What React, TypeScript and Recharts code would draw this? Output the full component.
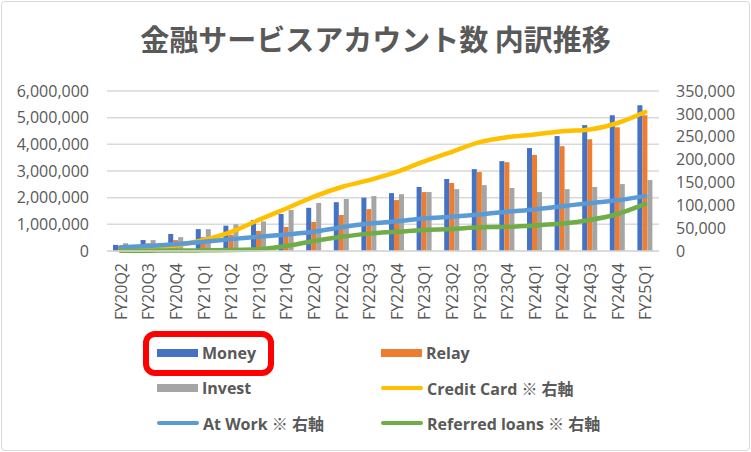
import { Bar, CartesianGrid, ComposedChart, Line, XAxis, YAxis } from "recharts";

const quarters = [
  "FY20Q2", "FY20Q3", "FY20Q4", "FY21Q1", "FY21Q2", "FY21Q3", "FY21Q4",
  "FY22Q1", "FY22Q2", "FY22Q3", "FY22Q4", "FY23Q1", "FY23Q2", "FY23Q3",
  "FY23Q4", "FY24Q1", "FY24Q2", "FY24Q3", "FY24Q4", "FY25Q1",
];

// left axis
const money = [230000, 410000, 640000, 820000, 950000, 1160000, 1390000, 1620000, 1830000, 2000000, 2170000, 2400000, 2700000, 3070000, 3370000, 3860000, 4310000, 4720000, 5090000, 5470000];
const relay = [200000, 290000, 410000, 520000, 610000, 750000, 900000, 1090000, 1350000, 1570000, 1910000, 2210000, 2550000, 2960000, 3330000, 3600000, 3930000, 4190000, 4640000, 5090000];
const invest = [290000, 410000, 520000, 820000, 1000000, 1110000, 1540000, 1800000, 1950000, 2060000, 2130000, 2210000, 2320000, 2470000, 2360000, 2210000, 2320000, 2400000, 2510000, 2660000];

// right axis
const creditCard = [2000, 5000, 12000, 24000, 42000, 68000, 93000, 119000, 140000, 155000, 173000, 196000, 217000, 238000, 249000, 255000, 262000, 266000, 280000, 304000];
const atWork = [8000, 11000, 15000, 20000, 26000, 31000, 36000, 42000, 52000, 60000, 65000, 71000, 75000, 80000, 86000, 91000, 98000, 105000, 111000, 120000];
const referredLoans = [500, 800, 1000, 1500, 2000, 4000, 11000, 22000, 31000, 38000, 42000, 46000, 48000, 52000, 53000, 56000, 60000, 68000, 81000, 103000];

const leftTicks = [0, 1000000, 2000000, 3000000, 4000000, 5000000, 6000000];
const rightTicks = [0, 50000, 100000, 150000, 200000, 250000, 300000, 350000];

const data = quarters.map((q, i) => ({
  q,
  money: money[i],
  relay: relay[i],
  invest: invest[i],
  creditCard: creditCard[i],
  atWork: atWork[i],
  referredLoans: referredLoans[i],
}));

const legendItems = [
  { name: "Money", color: "#4472C4", kind: "bar" },
  { name: "Relay", color: "#ED7D31", kind: "bar" },
  { name: "Invest", color: "#A5A5A5", kind: "bar" },
  { name: "Credit Card ※ 右軸", color: "#FFC000", kind: "line" },
  { name: "At Work ※ 右軸", color: "#5B9BD5", kind: "line" },
  { name: "Referred loans ※ 右軸", color: "#70AD47", kind: "line" },
];

const fmt = (v: number) => v.toLocaleString("en-US");
const textColor = "#595959";
const font = "'Open Sans', 'Noto Sans CJK JP', sans-serif";

const XTick = (props: any) => {
  const { x, y, payload } = props;
  return (
    <text
      x={x}
      y={y}
      transform={`rotate(-90, ${x}, ${y})`}
      textAnchor="end"
      dominantBaseline="central"
      fill={textColor}
      fontSize={16}
      fontFamily={font}
    >
      {payload.value}
    </text>
  );
};

export default function App() {
  return (
    <div
      style={{
        position: "fixed",
        left: 0,
        top: 0,
        width: 751,
        height: 452,
        background: "#fff",
        fontFamily: font,
      }}
    >
      <div
        style={{
          position: "absolute",
          left: 1,
          top: 1,
          width: 747,
          height: 448,
          border: "1px solid #D9D9D9",
          borderRadius: 4,
        }}
      />
      <div
        style={{
          position: "absolute",
          left: 0,
          top: 18,
          width: 751,
          textAlign: "center",
          fontSize: 29,
          lineHeight: "40px",
          fontWeight: 700,
          color: textColor,
          fontFamily: "'Noto Sans CJK JP', sans-serif",
        }}
      >
        金融サービスアカウント数 内訳推移
      </div>
      <ComposedChart
        width={751}
        height={452}
        data={data}
        margin={{ top: 91, right: 0, bottom: 121, left: 0 }}
        barGap={0}
        style={{ position: "absolute", left: 0, top: 0 }}
      >
        <CartesianGrid yAxisId="left" vertical={false} stroke="#D9D9D9" strokeWidth={1.5} />
        <XAxis
          dataKey="q"
          height={80}
          interval={0}
          tick={<XTick />}
          tickLine={false}
          tickSize={0}
          tickMargin={12}
          axisLine={{ stroke: "#D9D9D9", strokeWidth: 1.5 }}
        />
        <YAxis
          yAxisId="left"
          width={107}
          domain={[0, 6000000]}
          ticks={leftTicks}
          interval={0}
          tickFormatter={fmt}
          axisLine={false}
          tickLine={false}
          tickSize={0}
          tickMargin={18}
          tick={{ fill: textColor, fontSize: 16, fontFamily: font }}
        />
        <YAxis
          yAxisId="right"
          orientation="right"
          width={92}
          domain={[0, 350000]}
          ticks={rightTicks}
          interval={0}
          tickFormatter={fmt}
          axisLine={false}
          tickLine={false}
          tickSize={0}
          tickMargin={17}
          tick={{ fill: textColor, fontSize: 16, fontFamily: font, textAnchor: "start" }}
        />
        <Bar yAxisId="left" dataKey="money" fill="#4472C4" barSize={5} isAnimationActive={false} />
        <Bar yAxisId="left" dataKey="relay" fill="#ED7D31" barSize={5} isAnimationActive={false} />
        <Bar yAxisId="left" dataKey="invest" fill="#A5A5A5" barSize={5} isAnimationActive={false} />
        <Line yAxisId="right" type="monotone" dataKey="creditCard" stroke="#FFC000" strokeWidth={4.5} strokeLinecap="round" dot={false} isAnimationActive={false} />
        <Line yAxisId="right" type="monotone" dataKey="atWork" stroke="#5B9BD5" strokeWidth={4.5} strokeLinecap="round" dot={false} isAnimationActive={false} />
        <Line yAxisId="right" type="monotone" dataKey="referredLoans" stroke="#70AD47" strokeWidth={4.5} strokeLinecap="round" dot={false} isAnimationActive={false} />
      </ComposedChart>

      {legendItems.map((item, i) => {
        const col = i % 2;
        const row = Math.floor(i / 2);
        const left = col === 0 ? 157 : 381;
        const cy = 353 + row * 35;
        return (
          <div key={item.name} style={{ position: "absolute", left, top: cy - 12, height: 24, display: "flex", alignItems: "center" }}>
            {item.kind === "bar" ? (
              <div style={{ width: 41, height: 8, background: item.color }} />
            ) : (
              <div style={{ width: 42, height: 4, borderRadius: 2, background: item.color }} />
            )}
            <span style={{ marginLeft: 4, fontSize: 16, fontWeight: 700, color: textColor, whiteSpace: "nowrap" }}>
              {item.name}
            </span>
          </div>
        );
      })}
      <div
        style={{
          position: "absolute",
          left: 143,
          top: 331,
          width: 131,
          height: 45,
          boxSizing: "border-box",
          border: "6px solid #FF0000",
          borderRadius: 12,
        }}
      />
    </div>
  );
}
